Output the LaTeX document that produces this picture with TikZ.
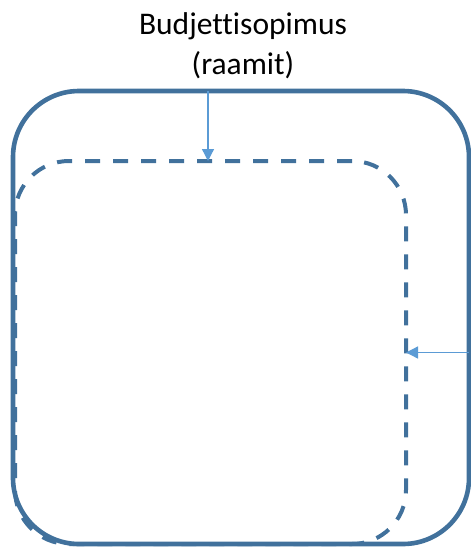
\documentclass[tikz,border=0pt]{standalone}
\usepackage{fontspec}
\setmainfont[Ligatures=NoCommon]{Carlito}
\usetikzlibrary{arrows.meta}
\definecolor{frameblue}{HTML}{41719C}
\definecolor{arrowblue}{HTML}{5B9BD5}
\tikzset{
  outerbox/.style={draw=frameblue, line width=4.6pt, rounded corners=66pt, inner sep=0pt, outer sep=0pt},
  innerbox/.style={draw=frameblue, line width=4pt, dash pattern=on 15pt off 13pt, rounded corners=54pt, inner sep=0pt, outer sep=0pt},
  feed/.style={draw=arrowblue, line width=1.3pt, -{Triangle[length=12pt,width=12pt]}},
  title/.style={font=\fontsize{31.5}{40}\selectfont, align=center, inner sep=0pt}
}
\begin{document}
\begin{tikzpicture}[x=1pt,y=-1pt]
\useasboundingbox (0,0) rectangle (471,547);
\node[innerbox, minimum width=391pt, minimum height=383pt] (inner) at (210.5,352.5) {};
\node[outerbox, minimum width=456pt, minimum height=453pt] (outer) at (241,317.5) {};
\node[title, anchor=north] (label) at (243,12.5) {Budjettisopimus\\(raamit)};
\coordinate (tx) at (208,0);
\draw[feed] (tx |- outer.north) -- (tx |- inner.north);
\draw[feed] (outer.east |- inner.east) -- (inner.east);
\end{tikzpicture}
\end{document}
